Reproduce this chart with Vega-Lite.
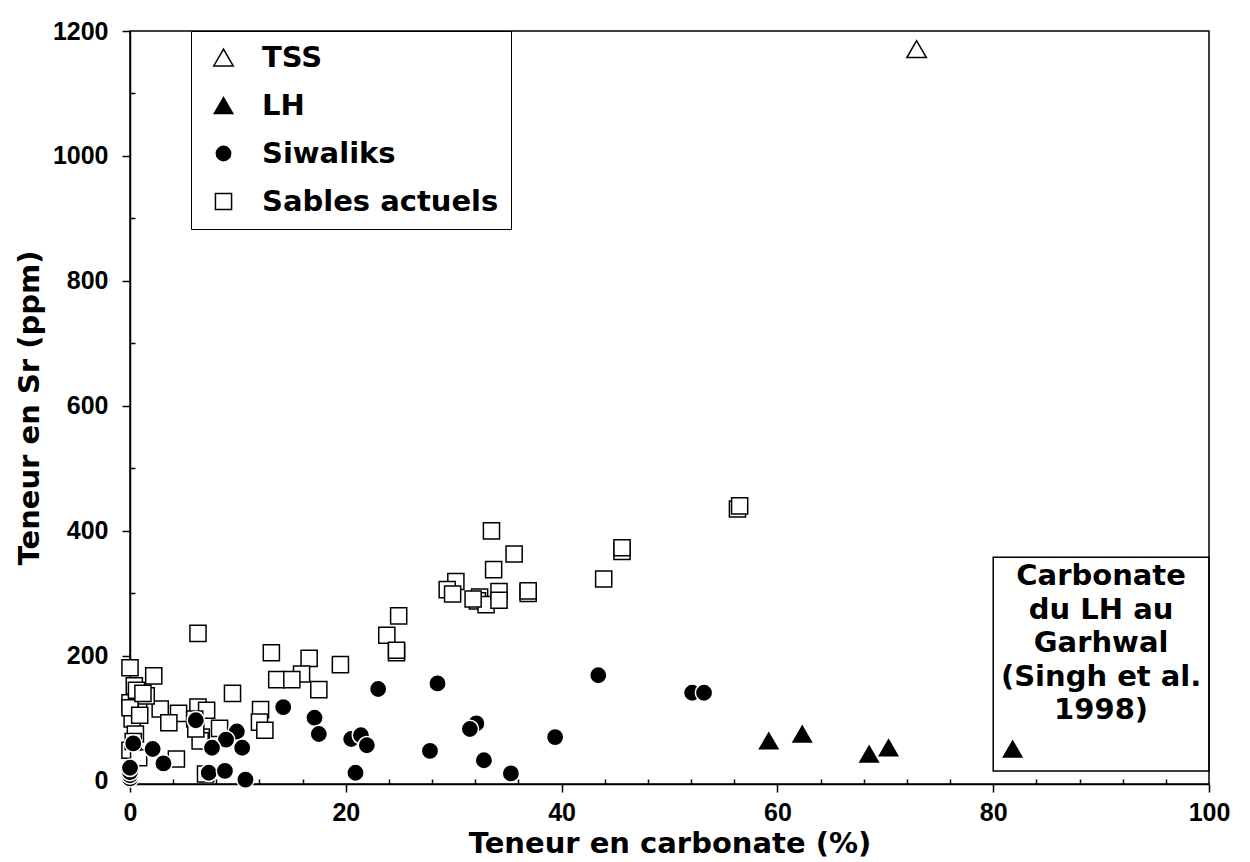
{
  "$schema": "https://vega.github.io/schema/vega-lite/v6.json",
  "width": 1079,
  "height": 753,
  "autosize": "none",
  "padding": {"left": 130, "top": 31, "right": 41, "bottom": 78},
  "background": "white",
  "config": {
    "view": {"stroke": "black", "strokeWidth": 1.5},
    "font": "Liberation Sans"
  },
  "data": {
    "values": [
      {"groupe": "Sables actuels", "carbonate": 56.3, "sr": 435},
      {"groupe": "Sables actuels", "carbonate": 56.5, "sr": 440},
      {"groupe": "Sables actuels", "carbonate": 45.6, "sr": 367},
      {"groupe": "Sables actuels", "carbonate": 45.6, "sr": 373},
      {"groupe": "Sables actuels", "carbonate": 43.9, "sr": 323},
      {"groupe": "Sables actuels", "carbonate": 33.5, "sr": 400},
      {"groupe": "Sables actuels", "carbonate": 35.6, "sr": 363},
      {"groupe": "Sables actuels", "carbonate": 33.7, "sr": 338},
      {"groupe": "Sables actuels", "carbonate": 30.2, "sr": 319},
      {"groupe": "Sables actuels", "carbonate": 29.4, "sr": 306},
      {"groupe": "Sables actuels", "carbonate": 29.9, "sr": 299},
      {"groupe": "Sables actuels", "carbonate": 32.4, "sr": 294},
      {"groupe": "Sables actuels", "carbonate": 32.2, "sr": 288},
      {"groupe": "Sables actuels", "carbonate": 33.0, "sr": 282},
      {"groupe": "Sables actuels", "carbonate": 34.2, "sr": 303},
      {"groupe": "Sables actuels", "carbonate": 34.2, "sr": 289},
      {"groupe": "Sables actuels", "carbonate": 36.9, "sr": 300},
      {"groupe": "Sables actuels", "carbonate": 36.9, "sr": 304},
      {"groupe": "Sables actuels", "carbonate": 31.8, "sr": 291},
      {"groupe": "Sables actuels", "carbonate": 24.9, "sr": 264},
      {"groupe": "Sables actuels", "carbonate": 23.8, "sr": 233},
      {"groupe": "Sables actuels", "carbonate": 24.7, "sr": 205},
      {"groupe": "Sables actuels", "carbonate": 24.7, "sr": 209},
      {"groupe": "Sables actuels", "carbonate": 13.1, "sr": 205},
      {"groupe": "Sables actuels", "carbonate": 16.6, "sr": 196},
      {"groupe": "Sables actuels", "carbonate": 19.5, "sr": 186},
      {"groupe": "Sables actuels", "carbonate": 13.6, "sr": 162},
      {"groupe": "Sables actuels", "carbonate": 15.9, "sr": 171},
      {"groupe": "Sables actuels", "carbonate": 15.0, "sr": 162},
      {"groupe": "Sables actuels", "carbonate": 17.5, "sr": 146},
      {"groupe": "Sables actuels", "carbonate": 9.5, "sr": 140},
      {"groupe": "Sables actuels", "carbonate": 6.3, "sr": 236},
      {"groupe": "Sables actuels", "carbonate": 2.2, "sr": 168},
      {"groupe": "Sables actuels", "carbonate": 0, "sr": 181},
      {"groupe": "Sables actuels", "carbonate": 12.1, "sr": 114},
      {"groupe": "Sables actuels", "carbonate": 12.0, "sr": 94},
      {"groupe": "Sables actuels", "carbonate": 12.5, "sr": 81},
      {"groupe": "Sables actuels", "carbonate": 2.8, "sr": 115},
      {"groupe": "Sables actuels", "carbonate": 4.5, "sr": 108},
      {"groupe": "Sables actuels", "carbonate": 3.6, "sr": 93},
      {"groupe": "Sables actuels", "carbonate": 6.3, "sr": 118},
      {"groupe": "Sables actuels", "carbonate": 7.1, "sr": 113},
      {"groupe": "Sables actuels", "carbonate": 6.0, "sr": 99},
      {"groupe": "Sables actuels", "carbonate": 8.3, "sr": 84},
      {"groupe": "Sables actuels", "carbonate": 6.6, "sr": 70},
      {"groupe": "Sables actuels", "carbonate": 4.3, "sr": 35},
      {"groupe": "Sables actuels", "carbonate": 7.0, "sr": 11},
      {"groupe": "Sables actuels", "carbonate": 0.4, "sr": 152},
      {"groupe": "Sables actuels", "carbonate": 0.8, "sr": 128},
      {"groupe": "Sables actuels", "carbonate": 1.5, "sr": 136},
      {"groupe": "Sables actuels", "carbonate": 0, "sr": 125},
      {"groupe": "Sables actuels", "carbonate": 0.2, "sr": 99},
      {"groupe": "Sables actuels", "carbonate": 0, "sr": 117},
      {"groupe": "Sables actuels", "carbonate": 0.5, "sr": 75},
      {"groupe": "Sables actuels", "carbonate": 0, "sr": 49},
      {"groupe": "Sables actuels", "carbonate": 0.8, "sr": 37},
      {"groupe": "Sables actuels", "carbonate": 6.5, "sr": 64},
      {"groupe": "Sables actuels", "carbonate": 6.1, "sr": 83},
      {"groupe": "Sables actuels", "carbonate": 0.6, "sr": 145},
      {"groupe": "Sables actuels", "carbonate": 1.2, "sr": 140},
      {"groupe": "Sables actuels", "carbonate": 0.9, "sr": 105},
      {"groupe": "Sables actuels", "carbonate": 0.3, "sr": 63},
      {"groupe": "Siwaliks", "carbonate": 43.4, "sr": 169},
      {"groupe": "Siwaliks", "carbonate": 52.1, "sr": 141},
      {"groupe": "Siwaliks", "carbonate": 53.2, "sr": 141},
      {"groupe": "Siwaliks", "carbonate": 28.5, "sr": 156},
      {"groupe": "Siwaliks", "carbonate": 32.1, "sr": 92},
      {"groupe": "Siwaliks", "carbonate": 31.5, "sr": 83},
      {"groupe": "Siwaliks", "carbonate": 39.4, "sr": 70},
      {"groupe": "Siwaliks", "carbonate": 27.8, "sr": 48},
      {"groupe": "Siwaliks", "carbonate": 32.8, "sr": 33},
      {"groupe": "Siwaliks", "carbonate": 35.3, "sr": 12},
      {"groupe": "Siwaliks", "carbonate": 23.0, "sr": 147},
      {"groupe": "Siwaliks", "carbonate": 14.2, "sr": 118},
      {"groupe": "Siwaliks", "carbonate": 17.1, "sr": 101},
      {"groupe": "Siwaliks", "carbonate": 17.5, "sr": 75},
      {"groupe": "Siwaliks", "carbonate": 20.5, "sr": 67},
      {"groupe": "Siwaliks", "carbonate": 21.4, "sr": 73},
      {"groupe": "Siwaliks", "carbonate": 21.95, "sr": 57},
      {"groupe": "Siwaliks", "carbonate": 20.9, "sr": 13},
      {"groupe": "Siwaliks", "carbonate": 6.1, "sr": 97},
      {"groupe": "Siwaliks", "carbonate": 9.9, "sr": 79},
      {"groupe": "Siwaliks", "carbonate": 8.9, "sr": 66},
      {"groupe": "Siwaliks", "carbonate": 10.4, "sr": 53},
      {"groupe": "Siwaliks", "carbonate": 7.6, "sr": 53},
      {"groupe": "Siwaliks", "carbonate": 0.3, "sr": 60},
      {"groupe": "Siwaliks", "carbonate": 2.1, "sr": 51},
      {"groupe": "Siwaliks", "carbonate": 3.1, "sr": 28},
      {"groupe": "Siwaliks", "carbonate": 0, "sr": 4},
      {"groupe": "Siwaliks", "carbonate": 0, "sr": 9},
      {"groupe": "Siwaliks", "carbonate": 0, "sr": 14},
      {"groupe": "Siwaliks", "carbonate": 0, "sr": 21},
      {"groupe": "Siwaliks", "carbonate": 7.3, "sr": 13},
      {"groupe": "Siwaliks", "carbonate": 8.8, "sr": 16},
      {"groupe": "Siwaliks", "carbonate": 10.7, "sr": 2},
      {"groupe": "LH", "carbonate": 59.2, "sr": 64},
      {"groupe": "LH", "carbonate": 62.3, "sr": 75},
      {"groupe": "LH", "carbonate": 68.5, "sr": 43},
      {"groupe": "LH", "carbonate": 70.3, "sr": 53},
      {"groupe": "LH", "carbonate": 81.8, "sr": 51},
      {"groupe": "TSS", "carbonate": 72.9, "sr": 1171}
    ]
  },
  "layer": [
    {
      "mark": {"type": "point", "filled": true, "opacity": 1, "strokeWidth": 1.5},
      "encoding": {
        "x": {
          "field": "carbonate", "type": "quantitative",
          "title": "Teneur en carbonate (%)",
          "scale": {"domain": [0, 100], "nice": false, "zero": false},
          "axis": {
            "values": [0,4,8,12,16,20,24,28,32,36,40,44,48,52,56,60,64,68,72,76,80,84,88,92,96,100],
            "labelExpr": "datum.value % 20 === 0 ? datum.label : ''",
            "format": "d",
            "tickSize": {"condition": {"test": "datum.value % 20 === 0", "value": 8}, "value": -5},
            "tickColor": "black", "tickWidth": 1.5,
            "domainColor": "black", "domainWidth": 1.5,
            "grid": false,
            "labelFont": "Liberation Sans", "labelFontSize": 25, "labelFontWeight": "bold", "labelColor": "black",
            "labelPadding": 8, "labelFlush": false, "labelOverlap": false,
            "titleFont": "DejaVu Sans", "titleFontSize": 29, "titleFontWeight": "bold", "titleColor": "black",
            "titlePadding": 4
          }
        },
        "y": {
          "field": "sr", "type": "quantitative",
          "title": "Teneur en Sr (ppm)",
          "scale": {"domain": [-5, 1200], "nice": false, "zero": false},
          "axis": {
            "values": [0,50,100,150,200,250,300,350,400,450,500,550,600,650,700,750,800,850,900,950,1000,1050,1100,1150,1200],
            "labelExpr": "datum.value % 200 === 0 ? datum.label : ''",
            "format": "d",
            "tickSize": {"condition": {"test": "datum.value % 200 === 0", "value": 8}, "value": -5},
            "tickColor": "black", "tickWidth": 1.5,
            "domainColor": "black", "domainWidth": 1.5,
            "grid": false,
            "labelFont": "Liberation Sans", "labelFontSize": 25, "labelFontWeight": "bold", "labelColor": "black",
            "labelPadding": 14, "labelOverlap": false, "labelFlush": false,
            "titleFont": "DejaVu Sans", "titleFontSize": 29, "titleFontWeight": "bold", "titleColor": "black",
            "titlePadding": 8
          }
        },
        "shape": {
          "field": "groupe", "type": "nominal", "title": null,
          "scale": {"domain": ["TSS", "LH", "Siwaliks", "Sables actuels"], "range": ["triangle-up", "triangle-up", "circle", "square"]},
          "legend": {"orient": "none", "legendX": 61, "legendY": 0, "padding": 12, "strokeColor": "black", "fillColor": "white", "labelFont": "DejaVu Sans", "labelFontWeight": "bold", "labelFontSize": 29, "labelColor": "black", "labelOffset": 24, "rowPadding": 18, "symbolOffset": 6, "symbolStrokeWidth": 1.5, "symbolOpacity": 1, "labelLimit": 0}
        },
        "fill": {
          "field": "groupe", "type": "nominal", "title": null,
          "scale": {"domain": ["TSS", "LH", "Siwaliks", "Sables actuels"], "range": ["white", "black", "black", "white"]},
          "legend": {"orient": "none", "legendX": 61, "legendY": 0, "padding": 12, "strokeColor": "black", "fillColor": "white", "labelFont": "DejaVu Sans", "labelFontWeight": "bold", "labelFontSize": 29, "labelColor": "black", "labelOffset": 24, "rowPadding": 18, "symbolOffset": 6, "symbolStrokeWidth": 1.5, "symbolOpacity": 1, "labelLimit": 0}
        },
        "stroke": {
          "field": "groupe", "type": "nominal", "title": null,
          "scale": {"domain": ["TSS", "LH", "Siwaliks", "Sables actuels"], "range": ["black", "black", "white", "black"]},
          "legend": {"orient": "none", "legendX": 61, "legendY": 0, "padding": 12, "strokeColor": "black", "fillColor": "white", "labelFont": "DejaVu Sans", "labelFontWeight": "bold", "labelFontSize": 29, "labelColor": "black", "labelOffset": 24, "rowPadding": 18, "symbolOffset": 6, "symbolStrokeWidth": 1.5, "symbolOpacity": 1, "labelLimit": 0}
        },
        "size": {
          "field": "groupe", "type": "nominal", "title": null,
          "scale": {"domain": ["TSS", "LH", "Siwaliks", "Sables actuels"], "range": [380, 260, 300, 340]},
          "legend": {"orient": "none", "legendX": 61, "legendY": 0, "padding": 12, "strokeColor": "black", "fillColor": "white", "labelFont": "DejaVu Sans", "labelFontWeight": "bold", "labelFontSize": 29, "labelColor": "black", "labelOffset": 24, "rowPadding": 18, "symbolOffset": 6, "symbolStrokeWidth": 1.5, "symbolOpacity": 1, "labelLimit": 0}
        }
      }
    },
    {
      "data": {"values": [{}]},
      "mark": {"type": "rect", "fill": "white", "fillOpacity": 0, "stroke": "black", "strokeWidth": 1.5},
      "encoding": {
        "x": {"datum": 80, "type": "quantitative"},
        "x2": {"datum": 100},
        "y": {"datum": 16, "type": "quantitative"},
        "y2": {"datum": 358}
      }
    },
    {
      "data": {"values": [{"note": "Carbonate\ndu LH au\nGarhwal\n(Singh et al.\n1998)"}]},
      "mark": {"type": "text", "font": "DejaVu Sans", "fontWeight": "bold", "fontSize": 29, "lineBreak": "\n", "lineHeight": 33.5, "align": "center", "baseline": "alphabetic", "color": "black"},
      "encoding": {
        "x": {"datum": 90, "type": "quantitative"},
        "y": {"datum": 313, "type": "quantitative"},
        "text": {"field": "note"}
      }
    }
  ]
}
